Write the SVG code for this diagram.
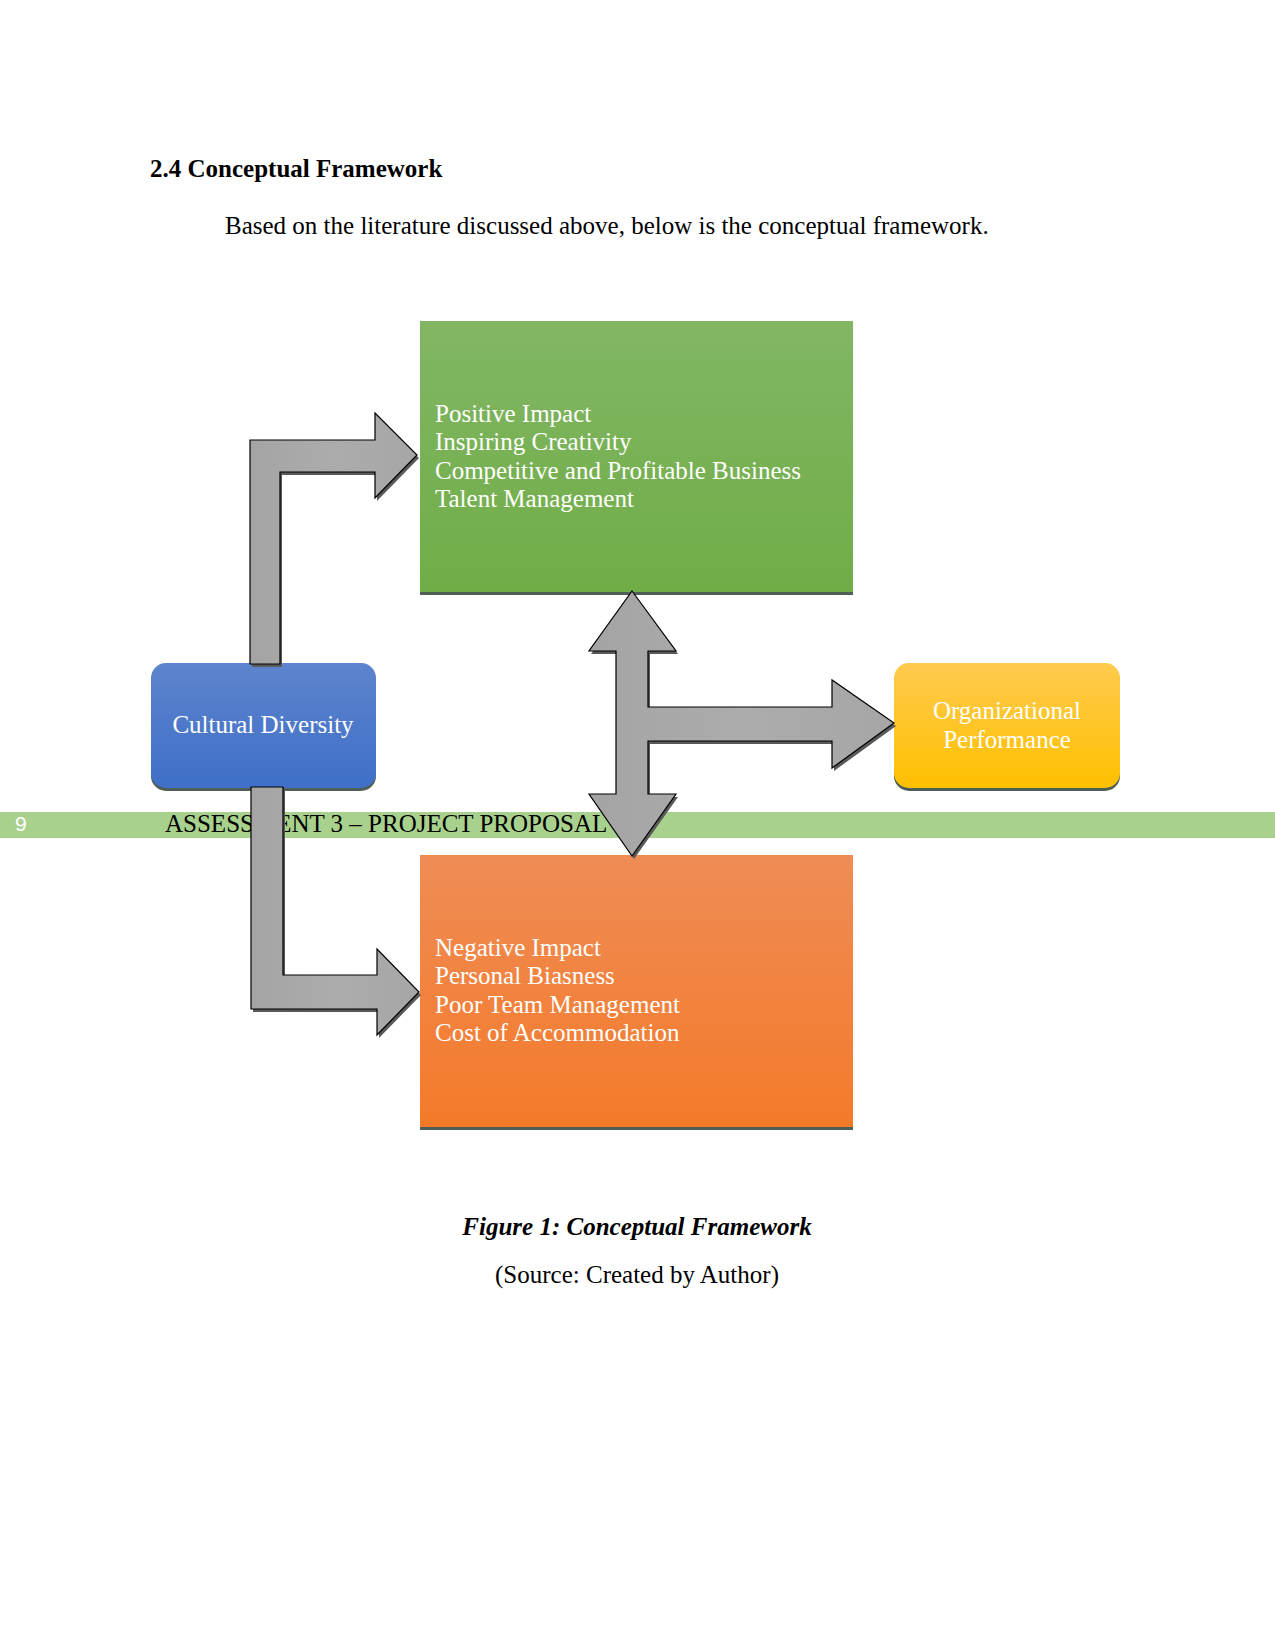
<svg xmlns="http://www.w3.org/2000/svg" width="1275" height="1651" viewBox="0 0 1275 1651">
<defs>
<linearGradient id="gGreen" x1="0" y1="0" x2="0" y2="1"><stop offset="0" stop-color="#82b664"/><stop offset="1" stop-color="#70ad47"/></linearGradient>
<linearGradient id="gOrange" x1="0" y1="0" x2="0" y2="1"><stop offset="0" stop-color="#ef8c55"/><stop offset="1" stop-color="#f47a2a"/></linearGradient>
<linearGradient id="gBlue" x1="0" y1="0" x2="0" y2="1"><stop offset="0" stop-color="#5d84cd"/><stop offset="1" stop-color="#3f6fc8"/></linearGradient>
<linearGradient id="gYellow" x1="0" y1="0" x2="0" y2="1"><stop offset="0" stop-color="#ffca4f"/><stop offset="1" stop-color="#ffc000"/></linearGradient>
<linearGradient id="gGray" x1="0" y1="0" x2="1" y2="0"><stop offset="0" stop-color="#a4a4a4"/><stop offset="0.5" stop-color="#acacac"/><stop offset="1" stop-color="#a6a6a6"/></linearGradient>
</defs>
<style>
.doc{font-family:"Liberation Serif","Times New Roman",serif;fill:#000}
.box{font-family:"Liberation Serif","Times New Roman",serif;fill:#ffffff;font-size:25px}
.arrow{fill:url(#gGray);stroke:#000;stroke-width:1.2;stroke-linejoin:miter}
.ashadow{fill:#595959}
.bshadow{fill:#4f5f55}
</style>
<rect width="1275" height="1651" fill="#ffffff"/>
<text class="doc" x="150" y="177" font-size="25" font-weight="bold">2.4 Conceptual Framework</text>
<text class="doc" x="225" y="234" font-size="25">Based on the literature discussed above, below is the conceptual framework.</text>
<g id="footer">
<rect x="0" y="812" width="1275" height="26" fill="#a9d18e"/>
<text x="15" y="831" font-family="Liberation Sans, Arial, sans-serif" font-size="21" fill="#ffffff">9</text>
<text class="doc" x="165" y="832" font-size="25">ASSESSMENT 3 – PROJECT PROPOSAL</text>
</g>
<g id="node-positive">
<rect class="bshadow" x="420" y="324" width="433" height="271"/>
<rect x="420" y="321" width="433" height="271" fill="url(#gGreen)"/>
<text class="box" x="435" y="422">Positive Impact</text>
<text class="box" x="435" y="450">Inspiring Creativity</text>
<text class="box" x="435" y="479">Competitive and Profitable Business</text>
<text class="box" x="435" y="507">Talent Management</text>
</g>
<g id="node-negative">
<rect class="bshadow" x="420" y="858" width="433" height="272"/>
<rect x="420" y="855" width="433" height="272" fill="url(#gOrange)"/>
<text class="box" x="435" y="956">Negative Impact</text>
<text class="box" x="435" y="984">Personal Biasness</text>
<text class="box" x="435" y="1013">Poor Team Management</text>
<text class="box" x="435" y="1041">Cost of Accommodation</text>
</g>
<g id="node-cultural">
<rect class="bshadow" x="151" y="666" width="225" height="125" rx="15"/>
<rect x="151" y="663" width="225" height="125" rx="15" fill="url(#gBlue)"/>
<text class="box" x="263" y="733" text-anchor="middle">Cultural Diversity</text>
</g>
<g id="node-org">
<rect class="bshadow" x="894" y="666" width="226" height="125" rx="15"/>
<rect x="894" y="663" width="226" height="125" rx="15" fill="url(#gYellow)"/>
<text class="box" x="1007" y="719" text-anchor="middle">Organizational</text>
<text class="box" x="1007" y="748" text-anchor="middle">Performance</text>
</g>
<g id="connectors">
<path class="ashadow" transform="translate(2,3)" d="M250,664 L250,440 L375,440 L375,413 L417,455 L375,498 L375,472 L280,472 L280,664 Z"/>
<path class="arrow" d="M250,664 L250,440 L375,440 L375,413 L417,455 L375,498 L375,472 L280,472 L280,664 Z"/>
<path class="ashadow" transform="translate(2,3)" d="M251,787 L283,787 L283,975 L377,975 L377,949 L419,992 L377,1035 L377,1009 L251,1009 Z"/>
<path class="arrow" d="M251,787 L283,787 L283,975 L377,975 L377,949 L419,992 L377,1035 L377,1009 L251,1009 Z"/>
<path class="ashadow" transform="translate(2,3)" d="M632,591 L676,651 L648,651 L648,707 L832,707 L832,680 L894,723 L832,768 L832,741 L648,741 L648,794 L676,794 L632,856 L589,794 L616,794 L616,651 L589,651 Z"/>
<path class="arrow" d="M632,591 L676,651 L648,651 L648,707 L832,707 L832,680 L894,723 L832,768 L832,741 L648,741 L648,794 L676,794 L632,856 L589,794 L616,794 L616,651 L589,651 Z"/>
</g>
<text class="doc" x="637" y="1235" font-size="25" font-weight="bold" font-style="italic" text-anchor="middle">Figure 1: Conceptual Framework</text>
<text class="doc" x="637" y="1283" font-size="25" text-anchor="middle">(Source: Created by Author)</text>
</svg>
